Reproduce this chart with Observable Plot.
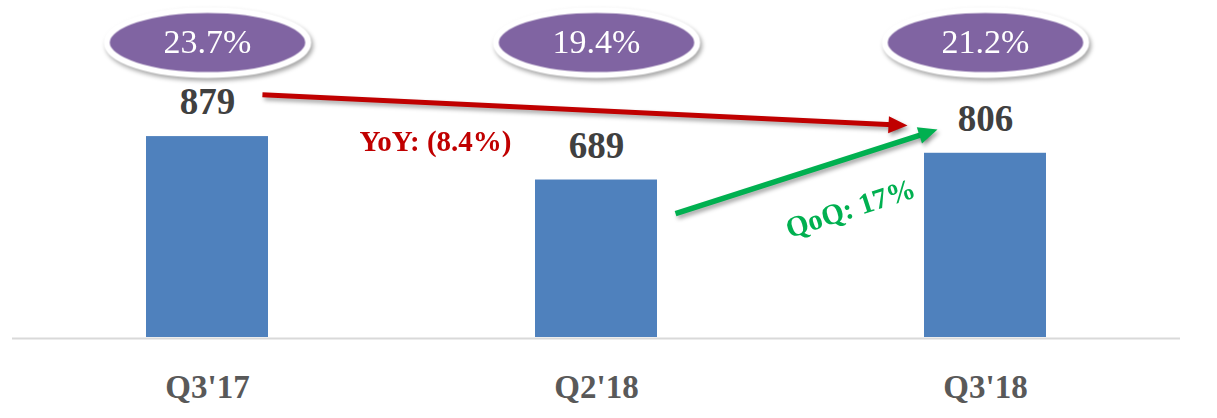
<!DOCTYPE html>
<html>
<head>
<meta charset="utf-8">
<script src="https://cdn.jsdelivr.net/npm/d3@7"></script>
<script src="https://cdn.jsdelivr.net/npm/@observablehq/plot@0.6"></script>
<style>
  html, body { margin: 0; padding: 0; background: #fff; }
</style>
</head>
<body>
<div id="chart"></div>
<script>
// ---- data ----
const quarters = ["Q3'17", "Q2'18", "Q3'18"];
const values = [879, 689, 806];
const margins = [23.7, 19.4, 21.2];
const yoyText = "YoY: (8.4%)";
const qoqText = "QoQ: 17%";

const rows = quarters.map((q, i) => ({quarter: q, value: values[i], margin: margins[i]}));

// ---- custom symbols ----
const ellipse = {
  draw(ctx, size) {
    const r = Math.sqrt(size / Math.PI);
    const rx = r * 3.1, ry = r, k = 0.5523;
    ctx.moveTo(rx, 0);
    ctx.bezierCurveTo(rx, ry * k, rx * k, ry, 0, ry);
    ctx.bezierCurveTo(-rx * k, ry, -rx, ry * k, -rx, 0);
    ctx.bezierCurveTo(-rx, -ry * k, -rx * k, -ry, 0, -ry);
    ctx.bezierCurveTo(rx * k, -ry, rx, -ry * k, rx, 0);
    ctx.closePath();
  }
};
const arrowHead = {
  draw(ctx) {
    const L = 19, W = 17;
    ctx.moveTo(0, 0);
    ctx.lineTo(W / 2, L);
    ctx.lineTo(-W / 2, L);
    ctx.closePath();
  }
};

const shadow = "drop-shadow(2px 3px 2px rgba(0,0,0,0.35))";
const red = "#c00000", green = "#00b050";

const chart = Plot.plot({
  width: 1217,
  height: 418,
  marginTop: 17,
  marginBottom: 81,
  marginLeft: 12,
  marginRight: 37,
  style: {fontFamily: "'Liberation Serif', serif", background: "white"},
  x: {domain: quarters, paddingInner: 0.687, paddingOuter: 0.3435, axis: null},
  y: {domain: [0, 1400], axis: null},
  marks: [
    Plot.ruleY([0], {stroke: "#d9d9d9", strokeWidth: 2, dy: 1}),
    Plot.barY(rows, {x: "quarter", y: "value", fill: "#4f81bd"}),
    Plot.axisX({tickSize: 0, tickPadding: 37, fontSize: 33, fontWeight: "bold", fill: "#595959", label: null}),
    Plot.text(rows, {x: "quarter", y: "value", text: d => String(d.value), dy: -34, lineAnchor: "middle",
      fontSize: 37, fontWeight: "bold", fill: "#404040"}),
    // margin ellipses
    Plot.dot(rows, {x: "quarter", frameAnchor: "top", dy: 25, symbol: ellipse, r: 32.5,
      fill: "#8064a2", stroke: "white", strokeWidth: 6, imageFilter: shadow}),
    Plot.text(rows, {x: "quarter", frameAnchor: "top", dy: 25, lineAnchor: "middle",
      text: d => d.margin.toFixed(1) + "%", fill: "white", fontSize: 34}),
    // YoY arrow
    Plot.arrow([{from: quarters[0], to: quarters[2]}], {x1: "from", x2: "to", y1: () => 1074, y2: () => 911,
      insetStart: 55, insetEnd: 88, headLength: 0, stroke: red, strokeWidth: 5, strokeLinecap: "butt", imageFilter: shadow}),
    Plot.dot([quarters[2]], {x: d => d, y: () => 927, dx: -78, symbol: arrowHead, r: 8, rotate: 92.75,
      fill: red, stroke: "none", imageFilter: shadow}),
    Plot.text([yoyText], {x: () => quarters[1], y: () => 857, dx: -161, text: d => d, lineAnchor: "middle",
      fontSize: 29, fontWeight: "bold", fill: red}),
    // QoQ arrow
    Plot.arrow([{from: quarters[1], to: quarters[2]}], {x1: "from", x2: "to", y1: () => 431.6, y2: () => 977,
      insetStart: 83, insetEnd: 62, headLength: 0, stroke: green, strokeWidth: 5.5, strokeLinecap: "butt", imageFilter: shadow}),
    Plot.dot([quarters[2]], {x: d => d, y: () => 909.6, dx: -48, symbol: arrowHead, r: 8, rotate: 72.2,
      fill: green, stroke: "none", imageFilter: shadow}),
    Plot.text([qoqText], {x: () => quarters[2], y: () => 564, dx: -135, text: d => d, rotate: -18, lineAnchor: "middle",
      fontSize: 29, fontWeight: "bold", fill: green})
  ]
});
document.getElementById("chart").appendChild(chart);
</script>
</body>
</html>
